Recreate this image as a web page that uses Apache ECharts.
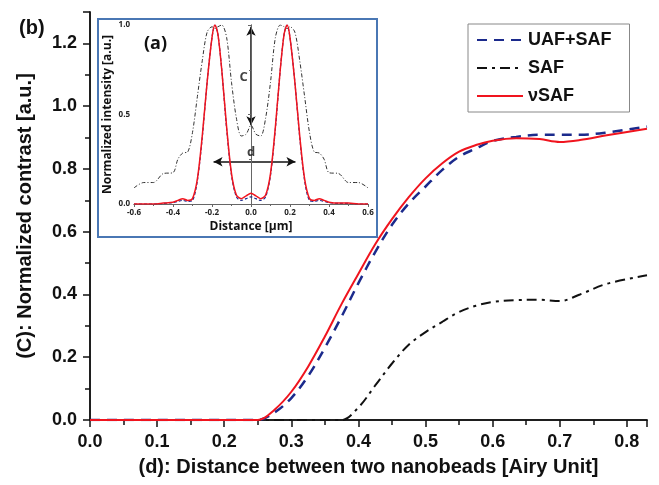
<!DOCTYPE html>
<html>
<head>
<meta charset="utf-8">
<script src="https://cdn.jsdelivr.net/npm/echarts@6/dist/echarts.min.js"></script>
<style>
  html, body { margin: 0; padding: 0; background: #fff; }
  #chart { width: 659px; height: 485px; }
</style>
</head>
<body>
<div id="chart"></div>
<script>
// main panel (b): contrast vs distance
const mainX = [0, 0.25, 0.275, 0.3, 0.325, 0.35, 0.375, 0.4, 0.425, 0.45, 0.475, 0.5, 0.525, 0.55, 0.575, 0.6, 0.635, 0.67, 0.7, 0.73, 0.77, 0.83];
const uafSaf = [0, 0, 0.024, 0.07, 0.14, 0.23, 0.33, 0.436, 0.535, 0.622, 0.69, 0.744, 0.797, 0.839, 0.865, 0.889, 0.902, 0.909, 0.909, 0.909, 0.916, 0.935];
const saf = [0, 0, 0, 0, 0, 0, 0, 0.04, 0.11, 0.18, 0.24, 0.28, 0.313, 0.344, 0.364, 0.376, 0.382, 0.383, 0.379, 0.4, 0.434, 0.461];
const nuSaf = [0, 0, 0.033, 0.09, 0.17, 0.266, 0.37, 0.466, 0.56, 0.64, 0.71, 0.77, 0.818, 0.855, 0.876, 0.89, 0.898, 0.895, 0.886, 0.892, 0.907, 0.928];

// inset (a): intensity profiles
const insetX = [-0.6, -0.55, -0.5, -0.45, -0.4, -0.375, -0.35, -0.325, -0.3, -0.275, -0.25, -0.225, -0.2, -0.185, -0.17, -0.15, -0.125, -0.1, -0.075, -0.05, -0.025, 0,
  0.025, 0.05, 0.075, 0.1, 0.125, 0.15, 0.17, 0.185, 0.2, 0.225, 0.25, 0.275, 0.3, 0.325, 0.35, 0.375, 0.4, 0.45, 0.5, 0.55, 0.6];
const insetNuSaf = [0, 0, 0, 0.005, 0.01, 0.02, 0.03, 0.02, 0.03, 0.14, 0.38, 0.68, 0.93, 1.0, 0.95, 0.75, 0.43, 0.17, 0.05, 0.03, 0.045, 0.06,
  0.045, 0.03, 0.05, 0.17, 0.43, 0.75, 0.95, 1.0, 0.93, 0.68, 0.38, 0.14, 0.03, 0.02, 0.03, 0.02, 0.01, 0.005, 0.005, 0, 0];
const insetUafSaf = [0, 0, 0, 0.003, 0.008, 0.015, 0.02, 0.015, 0.02, 0.13, 0.37, 0.68, 0.93, 1.0, 0.95, 0.75, 0.42, 0.16, 0.04, 0.02, 0.03, 0.04,
  0.03, 0.02, 0.04, 0.16, 0.42, 0.75, 0.95, 1.0, 0.93, 0.68, 0.37, 0.13, 0.02, 0.015, 0.02, 0.015, 0.008, 0.003, 0.003, 0, 0];
const insetSaf = [0.09, 0.12, 0.12, 0.17, 0.175, 0.25, 0.285, 0.29, 0.4, 0.6, 0.8, 0.96, 0.99, 0.98, 0.99, 1.0, 0.93, 0.68, 0.48, 0.38, 0.39, 0.44,
  0.39, 0.38, 0.48, 0.68, 0.93, 1.0, 0.99, 0.98, 0.99, 0.96, 0.8, 0.6, 0.4, 0.29, 0.285, 0.25, 0.175, 0.17, 0.12, 0.12, 0.09];

const pairs = (xs, ys) => xs.map((x, i) => [x, ys[i]]);

const FONT = '"Liberation Sans", Arial, sans-serif';
const INSET_FONT = '"Open Sans", "Noto Sans", sans-serif';
const BLUE = '#1b2a8c';
const RED = '#f0141e';

const chart = echarts.init(document.getElementById('chart'));

const mainAxisLine = { lineStyle: { color: '#111', width: 1.5 } };
const insetAxisLine = { lineStyle: { color: '#666', width: 1 } };

chart.setOption({
  animation: false,
  backgroundColor: '#fff',
  title: [
    { text: '(b)', left: 14, top: 13, textStyle: { fontFamily: FONT, fontWeight: 'bold', fontSize: 20, color: '#111' } },
    { text: '(a)', left: 139, top: 30, textStyle: { fontFamily: INSET_FONT, fontWeight: 'bold', fontSize: 18, color: '#111' } },
  ],
  legend: {
    data: ['UAF+SAF', 'SAF', 'νSAF'],
    orient: 'vertical',
    left: 468,
    top: 24,
    padding: [7, 18, 7, 8],
    itemWidth: 46,
    itemHeight: 14,
    itemGap: 10,
    borderColor: '#888',
    borderWidth: 1,
    itemStyle: { opacity: 0 },
    textStyle: { fontFamily: FONT, fontWeight: 'bold', fontSize: 18, color: '#111' },
  },
  graphic: [
    {
      type: 'rect',
      z: 1,
      shape: { x: 98, y: 19, width: 279, height: 218 },
      style: { fill: '#fff', stroke: '#4a77b4', lineWidth: 2 },
    },
  ],
  grid: [
    { left: 90, right: 12, top: 12, bottom: 65 },
    { left: 134, top: 25, width: 234, height: 179 },
  ],
  xAxis: [
    {
      gridIndex: 0, type: 'value', min: 0, max: 0.83, interval: 0.1,
      name: '(d): Distance between two nanobeads [Airy Unit]',
      nameLocation: 'middle', nameGap: 37,
      nameTextStyle: { fontFamily: FONT, fontWeight: 'bold', fontSize: 20, color: '#111' },
      axisLine: mainAxisLine,
      axisTick: { length: 7, lineStyle: { color: '#111', width: 1.5 } },
      minorTick: { show: true, splitNumber: 2, length: 5, lineStyle: { color: '#111', width: 1.5 } },
      axisLabel: { showMaxLabel: false, margin: 13, formatter: (v) => v.toFixed(1), fontFamily: FONT, fontWeight: 'bold', fontSize: 18, color: '#111' },
      splitLine: { show: false },
    },
    {
      gridIndex: 0, type: 'value', position: 'top', min: 0, max: 0.83, interval: 0.1,
      axisLine: mainAxisLine,
      axisTick: { inside: true, length: 6, lineStyle: { color: '#111', width: 1.5 } },
      minorTick: { show: true, splitNumber: 2, length: 5, lineStyle: { color: '#111', width: 1.5 } },
      axisLabel: { show: false },
      splitLine: { show: false },
    },
    {
      gridIndex: 1, type: 'value', min: -0.6, max: 0.6, interval: 0.2, z: 10,
      name: 'Distance [µm]', nameLocation: 'middle', nameGap: 17,
      nameTextStyle: { fontFamily: INSET_FONT, fontWeight: 'bold', fontSize: 12, color: '#111' },
      axisLine: insetAxisLine,
      axisTick: { length: 3, lineStyle: { color: '#666' } },
      minorTick: { show: true, splitNumber: 2, length: 2, lineStyle: { color: '#666' } },
      axisLabel: { margin: 5, formatter: (v) => v.toFixed(1), fontFamily: INSET_FONT, fontWeight: 'bold', fontSize: 8, color: '#222' },
      splitLine: { show: false },
    },
    {
      gridIndex: 1, type: 'value', position: 'top', min: -0.6, max: 0.6, interval: 0.2, z: 10,
      axisLine: insetAxisLine,
      axisTick: { inside: true, length: 3, lineStyle: { color: '#666' } },
      minorTick: { show: true, splitNumber: 2, length: 2, lineStyle: { color: '#666' } },
      axisLabel: { show: false },
      splitLine: { show: false },
    },
  ],
  yAxis: [
    {
      gridIndex: 0, type: 'value', min: 0, max: 1.3, interval: 0.2,
      name: '(C): Normalized contrast [a.u.]',
      nameLocation: 'middle', nameGap: 55,
      nameTextStyle: { fontFamily: FONT, fontWeight: 'bold', fontSize: 20, color: '#111' },
      axisLine: mainAxisLine,
      axisTick: { length: 7, lineStyle: { color: '#111', width: 1.5 } },
      minorTick: { show: true, splitNumber: 2, length: 5, lineStyle: { color: '#111', width: 1.5 } },
      axisLabel: { showMaxLabel: false, margin: 13, formatter: (v) => v.toFixed(1), fontFamily: FONT, fontWeight: 'bold', fontSize: 18, color: '#111' },
      splitLine: { show: false },
    },
    {
      gridIndex: 0, type: 'value', position: 'right', min: 0, max: 1.3, interval: 0.2,
      axisLine: mainAxisLine,
      axisTick: { inside: true, length: 7, lineStyle: { color: '#111', width: 1.5 } },
      minorTick: { show: true, splitNumber: 2, length: 5, lineStyle: { color: '#111', width: 1.5 } },
      axisLabel: { show: false },
      splitLine: { show: false },
    },
    {
      gridIndex: 1, type: 'value', min: 0, max: 1, interval: 0.5, z: 10,
      name: 'Normalized intensity [a.u.]', nameLocation: 'middle', nameGap: 20,
      nameTextStyle: { fontFamily: INSET_FONT, fontWeight: 'bold', fontSize: 12, color: '#111' },
      axisLine: insetAxisLine,
      axisTick: { length: 3, lineStyle: { color: '#666' } },
      minorTick: { show: true, splitNumber: 2, length: 2, lineStyle: { color: '#666' } },
      axisLabel: { margin: 4, formatter: (v) => v.toFixed(1), fontFamily: INSET_FONT, fontWeight: 'bold', fontSize: 8, color: '#222' },
      splitLine: { show: false },
    },
    {
      gridIndex: 1, type: 'value', position: 'right', min: 0, max: 1, interval: 0.5, z: 10,
      axisLine: insetAxisLine,
      axisTick: { inside: true, length: 3, lineStyle: { color: '#666' } },
      minorTick: { show: true, splitNumber: 2, length: 2, lineStyle: { color: '#666' } },
      axisLabel: { show: false },
      splitLine: { show: false },
    },
  ],
  series: [
    {
      name: 'UAF+SAF', type: 'line', xAxisIndex: 0, yAxisIndex: 0,
      data: pairs(mainX, uafSaf), symbol: 'none', smooth: 0.35,
      lineStyle: { color: BLUE, width: 2.5, type: [10, 7] }, itemStyle: { color: BLUE },
    },
    {
      name: 'SAF', type: 'line', xAxisIndex: 0, yAxisIndex: 0,
      data: pairs(mainX, saf), symbol: 'none', smooth: 0.35,
      lineStyle: { color: '#111', width: 2, type: [10, 5, 3, 5] }, itemStyle: { color: '#111' },
    },
    {
      name: 'νSAF', type: 'line', xAxisIndex: 0, yAxisIndex: 0,
      data: pairs(mainX, nuSaf), symbol: 'none', smooth: 0.35,
      lineStyle: { color: RED, width: 2 }, itemStyle: { color: RED },
    },
    {
      name: 'inset SAF', type: 'line', xAxisIndex: 2, yAxisIndex: 2, z: 10,
      data: pairs(insetX, insetSaf), symbol: 'none', smooth: 0.3,
      lineStyle: { color: '#333', width: 1, type: [4, 2, 1, 2] },
    },
    {
      name: 'inset UAF+SAF', type: 'line', xAxisIndex: 2, yAxisIndex: 2, z: 10,
      data: pairs(insetX, insetUafSaf), symbol: 'none', smooth: 0.3,
      lineStyle: { color: BLUE, width: 1.2, type: [3, 2] },
    },
    {
      name: 'inset νSAF', type: 'line', xAxisIndex: 2, yAxisIndex: 2, z: 11,
      data: pairs(insetX, insetNuSaf), symbol: 'none', smooth: 0.3,
      lineStyle: { color: RED, width: 1.5 },
      markLine: {
        silent: true,
        symbol: ['arrow', 'arrow'],
        symbolSize: [7, 9],
        label: { show: false },
        lineStyle: { color: '#111', width: 1.5, type: 'solid' },
        data: [
          [{ coord: [0, 0.99] }, { coord: [0, 0.44] }],
          [{ coord: [-0.192, 0.236] }, { coord: [0.228, 0.236] }],
        ],
      },
    },
    {
      name: 'inset labels', type: 'scatter', xAxisIndex: 2, yAxisIndex: 2, z: 12,
      symbolSize: 0,
      data: [
        { value: [-0.038, 0.71], label: { formatter: 'C' } },
        { value: [0, 0.29], label: { formatter: 'd' } },
      ],
      label: { show: true, position: 'inside', fontFamily: INSET_FONT, fontWeight: 'bold', fontSize: 13, color: '#111' },
    },
  ],
});
</script>
</body>
</html>
